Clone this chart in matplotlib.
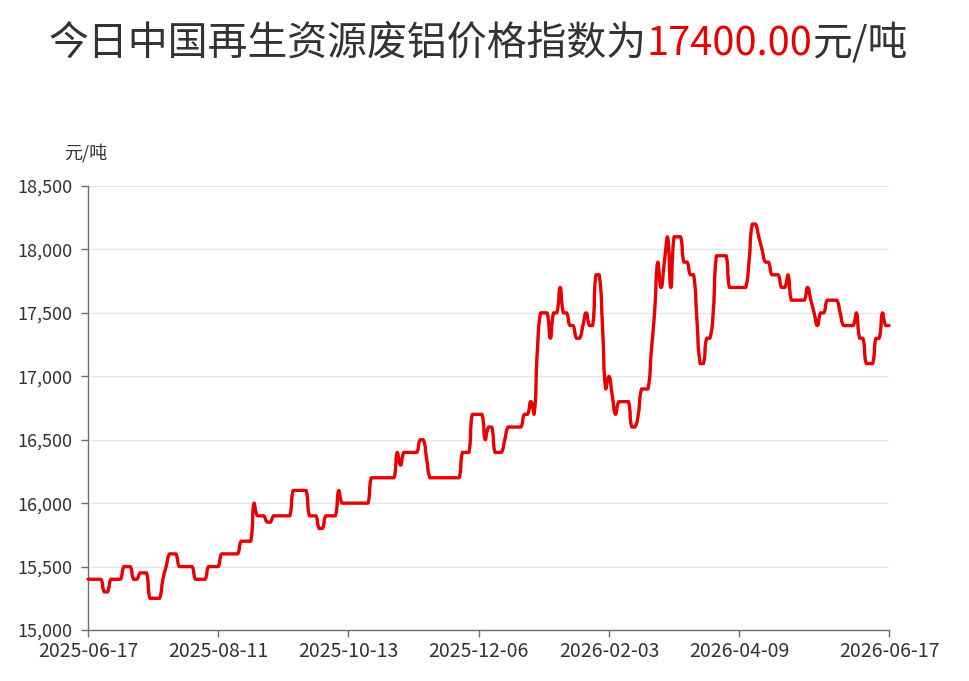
import numpy as np
import matplotlib
matplotlib.use('Agg')
import matplotlib.pyplot as plt
from matplotlib.path import Path
from matplotlib.patches import PathPatch
from matplotlib.ticker import FuncFormatter, MultipleLocator, FixedLocator

# ---------------- data ----------------
price_levels = [
    15400, 15300, 15400, 15500, 15400, 15450, 15250, 15400, 15500, 15600,
    15500, 15400, 15500, 15600, 15700, 16000, 15900, 15850, 15900, 16100,
    15900, 15800, 15900, 16100, 16000, 16200, 16400, 16300, 16400, 16500,
    16350, 16200, 16400, 16700, 16500, 16600, 16400, 16500, 16600, 16700,
    16800, 16700, 17200, 17500, 17300, 17500, 17700, 17500, 17400, 17300,
    17400, 17500, 17400, 17800, 17400, 16900, 17000, 16850, 16700, 16800,
    16600, 16700, 16900, 17200, 17500, 17900, 17700, 17900, 18100, 17700,
    18100, 17900, 17800, 17450, 17100, 17300, 17500, 17950, 17700, 17900,
    18200, 18100, 18000, 17900, 17800, 17700, 17800, 17600, 17700, 17600,
    17500, 17400, 17500, 17600, 17500, 17400, 17500, 17300, 17100, 17300,
    17500, 17400,
]
run_lengths = [
    5, 2, 4, 3, 2, 3, 4, 1, 1, 3,
    5, 4, 4, 6, 4, 1, 3, 2, 6, 5,
    3, 2, 4, 1, 9, 8, 1, 1, 5, 2,
    1, 10, 3, 4, 1, 2, 3, 1, 5, 2,
    1, 1, 1, 3, 1, 2, 1, 2, 2, 2,
    1, 1, 2, 2, 1, 1, 1, 1, 1, 4,
    2, 1, 3, 1, 1, 1, 1, 1, 1, 1,
    3, 2, 2, 1, 2, 2, 1, 4, 6, 1,
    2, 1, 1, 2, 3, 2, 1, 5, 1, 1,
    1, 1, 2, 4, 1, 4, 1, 2, 3, 2,
    1, 2,
]
values = np.repeat(price_levels, run_lengths)

date_labels = ['2025-06-17', '2025-08-11', '2025-10-13', '2025-12-06',
               '2026-02-03', '2026-04-09', '2026-06-17']
label_interval = 40

title_main = '今日中国再生资源废铝价格指数为'
title_value = '17400.00'
title_unit = '元/吨'
y_unit = '元/吨'

# ---------------- style ----------------
plt.rcParams['font.family'] = ['Noto Sans CJK SC', 'DejaVu Sans']
W, H = 969, 681
RED = '#e60000'
DARK = '#333333'
AXIS = '#6e7079'

fig = plt.figure(figsize=(W / 100, H / 100), dpi=100)
fig.patch.set_facecolor('white')
ax = fig.add_axes([88 / W, 1 - 630 / H, (889 - 88) / W, (630 - 186) / H])

n = len(values)
xs = np.arange(n)
ax.set_xlim(0, n - 1)
ax.set_ylim(15000, 18500)
ax.yaxis.set_major_locator(MultipleLocator(500))
ax.yaxis.set_major_formatter(FuncFormatter(lambda v, p: f'{int(v):,}'))

tick_pos = [i for i in range(0, n, label_interval) if i + label_interval <= n - 1] + [n - 1]
ax.xaxis.set_major_locator(FixedLocator(tick_pos))
ax.set_xticklabels(date_labels)

for s in ['top', 'right']:
    ax.spines[s].set_visible(False)
for s in ['left', 'bottom']:
    ax.spines[s].set_color(AXIS)
    ax.spines[s].set_linewidth(1.0)

ax.tick_params(axis='both', colors=AXIS, labelcolor=DARK, length=5, width=1.0)
ax.tick_params(axis='y', pad=6, labelsize=13)
ax.tick_params(axis='x', pad=3, labelsize=14)
ax.yaxis.grid(True, color='#e0e6f1', linewidth=1.0)
ax.xaxis.grid(False)
ax.set_axisbelow(True)

# ---------------- smooth line (ECharts-like bezier in pixel space) ----------------
fig.canvas.draw()
pts = ax.transData.transform(np.column_stack([xs, values]))
smooth = 0.5
cp_before = pts.copy()
cp_after = pts.copy()
for i in range(1, n - 1):
    p0, p1, p2 = pts[i - 1], pts[i], pts[i + 1]
    v = p2 - p0
    l0 = np.hypot(*(p1 - p0))
    l1 = np.hypot(*(p2 - p1))
    r = l1 / (l0 + l1) if (l0 + l1) > 0 else 0.5
    cb = p1 - v * smooth * (1 - r)
    ca = p1 + v * smooth * r
    # clamp to adjacent segment boxes (avoid overshoot)
    cb = np.clip(cb, np.minimum(p0, p1), np.maximum(p0, p1))
    ca = np.clip(ca, np.minimum(p1, p2), np.maximum(p1, p2))
    cp_before[i] = cb
    cp_after[i] = ca

verts = [pts[0]]
codes = [Path.MOVETO]
for i in range(n - 1):
    verts += [cp_after[i], cp_before[i + 1], pts[i + 1]]
    codes += [Path.CURVE4] * 3
verts = ax.transData.inverted().transform(np.array(verts))
path = Path(verts, codes)
ax.add_patch(PathPatch(path, facecolor='none', edgecolor=RED, linewidth=2.4,
                       capstyle='round', joinstyle='round', clip_on=False, zorder=3))

# ---------------- texts ----------------
fig.text(86 / W, 1 - 153 / H, y_unit, fontsize=13, color=DARK, ha='center', va='center')

fs = 28.7
yb = 1 - 55 / H
t1 = fig.text(0, yb, title_main, fontsize=fs, color=DARK, ha='left', va='baseline')
t2 = fig.text(0, yb, title_value, fontsize=fs, color=RED, ha='left', va='baseline')
t3 = fig.text(0, yb, title_unit, fontsize=fs, color=DARK, ha='left', va='baseline')
rend = fig.canvas.get_renderer()
w1 = t1.get_window_extent(rend).width
w2 = t2.get_window_extent(rend).width
w3 = t3.get_window_extent(rend).width
x0 = 478 - (w1 + w2 + w3) / 2
t1.set_x(x0 / W)
t2.set_x((x0 + w1) / W)
t3.set_x((x0 + w1 + w2) / W)

fig.savefig('out.png', dpi=100, facecolor='white')
